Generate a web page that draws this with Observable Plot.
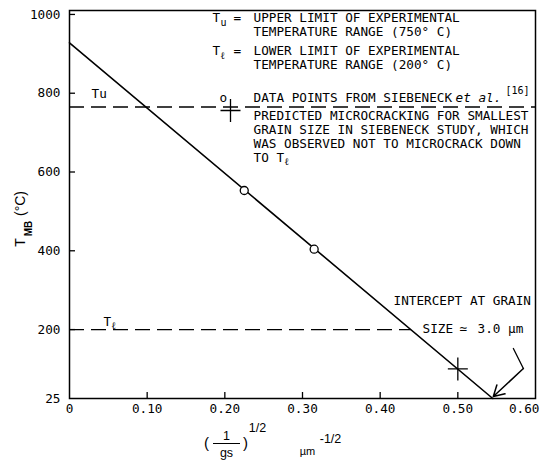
<!DOCTYPE html>
<html><head><meta charset="utf-8">
<script src="https://cdn.jsdelivr.net/npm/d3@7"></script>
<script src="https://cdn.jsdelivr.net/npm/@observablehq/plot@0.6"></script>
<style>body{margin:0;background:#fff}</style>
</head><body><div id="chart"></div>
<script>
// ---- data ----
const xTicks = [0, 0.10, 0.20, 0.30, 0.40, 0.50, 0.60];
const yTicks = [25, 200, 400, 600, 800, 1000];
const fitX = [0, 0.545];          // fitted line end points
const fitY = [928, 25];
const siebX = [0.225, 0.315];     // data points from Siebeneck et al.
const siebY = [553, 404];
const predX = [0.50];             // predicted microcracking
const predY = [100];
const limitNames = ["Tu", "Tℓ"];
const limitY = [765, 200];
const limitXEnd = [0.60, 0.44];
const arrowX = [0.5715, 0.5844, 0.5457];
const arrowY = [152, 101, 30];
const legendU = ["UPPER LIMIT OF EXPERIMENTAL", "TEMPERATURE RANGE (750° C)"];
const legendL = ["LOWER LIMIT OF EXPERIMENTAL", "TEMPERATURE RANGE (200° C)"];
const legendData = ["DATA POINTS FROM SIEBENECK", "et al.", "[16]"];
const legendPred = ["PREDICTED MICROCRACKING FOR SMALLEST", "GRAIN SIZE IN SIEBENECK STUDY, WHICH", "WAS OBSERVED NOT TO MICROCRACK DOWN", "TO T"];
const interceptText = ["INTERCEPT AT GRAIN", "SIZE", "≃", "3.0 µm"];

// ---- layout ----
const W = 541, H = 467, ML = 69, MR = 6, MT = 10, MB = 69;
const xDom = [0, 0.6], yDom = [25, 1010];
const xv = px => xDom[0] + (px - ML) / (W - ML - MR) * (xDom[1] - xDom[0]);
const yv = py => yDom[0] + (H - MB - py) / (H - MB - MT) * (yDom[1] - yDom[0]);

const mono = "DejaVu Sans Mono";
const sans = "Liberation Sans, Arial, sans-serif";
const note = (text, px, py, o = {}) => Plot.text([text], {
  text: d => d, frameAnchor: "top-left", dx: px - ML, dy: py - MT,
  textAnchor: "start", lineAnchor: "middle", fontFamily: mono, fontSize: 12.7,
  fill: "black", ...o
});

const cross = {
  draw(ctx, size) {
    const r = Math.sqrt(size / Math.PI);
    ctx.moveTo(-r, 0); ctx.lineTo(r, 0);
    ctx.moveTo(0, -1.15 * r); ctx.lineTo(0, 1.15 * r);
  }
};

const fit = fitX.map((x, i) => ({x, y: fitY[i]}));
const sieb = siebX.map((x, i) => ({x, y: siebY[i]}));
const pred = predX.map((x, i) => ({x, y: predY[i]}));
const limits = limitNames.map((n, i) => ({n, y: limitY[i], x2: limitXEnd[i]}));
const arrowPts = arrowX.map((x, i) => ({x, y: arrowY[i]}));
const xFmt = d => d === 0 ? "0" : d.toFixed(2);

const chart = Plot.plot({
  width: W, height: H,
  marginLeft: ML, marginRight: MR, marginTop: MT, marginBottom: MB,
  style: {background: "#fff", color: "black"},
  x: {domain: xDom, label: null},
  y: {domain: yDom, label: null},
  marks: [
    Plot.axisX({ticks: xTicks.slice(0, -1), tickFormat: xFmt, tickSize: 0, tickPadding: 5,
      fontFamily: mono, fontSize: 12.7, label: null}),
    Plot.axisX({ticks: xTicks.slice(-1), tickFormat: xFmt, tickSize: 0, tickPadding: 5, textAnchor: "end", dx: 4,
      fontFamily: mono, fontSize: 12.7, label: null}),
    Plot.axisY({ticks: yTicks, tickFormat: d => String(d), tickSize: 0, tickPadding: 9,
      fontFamily: mono, fontSize: 12.7, label: null}),
    // inward tick marks
    Plot.ruleX(xTicks.slice(1, -1), {x: d => d, y1: yDom[0], y2: yv(H - MB - 6), stroke: "black", strokeWidth: 1.3}),
    Plot.ruleY(yTicks.slice(1), {y: d => d, x1: xDom[0], x2: xv(ML + 6), stroke: "black", strokeWidth: 1.3}),
    Plot.frame({stroke: "black", strokeWidth: 1.5}),
    Plot.ruleY(limits, {y: "y", x1: 0, x2: "x2", stroke: "black", strokeWidth: 1.3, strokeDasharray: "15,7"}),
    Plot.line(fit, {x: "x", y: "y", stroke: "black", strokeWidth: 1.6}),
    Plot.dot(sieb, {x: "x", y: "y", r: 4, fill: "white", stroke: "black", strokeWidth: 1.3}),
    Plot.dot(pred, {x: "x", y: "y", r: 10, symbol: cross, fill: "none", stroke: "black", strokeWidth: 1.3}),
    Plot.line(arrowPts.slice(0, 2), {x: "x", y: "y", stroke: "black", strokeWidth: 1.3}),
    Plot.arrow([arrowPts], {x1: d => d[1].x, y1: d => d[1].y, x2: d => d[2].x, y2: d => d[2].y,
      stroke: "black", strokeWidth: 1.5, headLength: 12}),

    // left labels of limit lines
    note(limitNames[0], 91, 93),
    note("T", 103, 321), note("ℓ", 111, 325, {fontSize: 10}),

    // legend
    note("T", 212, 17), note("u", 220, 22, {fontSize: 10}), note("=", 233, 17),
    note(legendU[0], 253, 17), note(legendU[1], 253, 31),
    note("T", 212, 50), note("ℓ", 220, 55, {fontSize: 10}), note("=", 233, 50),
    note(legendL[0], 253, 50), note(legendL[1], 253, 64),
    note("o", 219, 97),
    note(legendData[0], 253, 97), note(legendData[1], 455, 97, {fontStyle: "italic"}),
    note(legendData[2], 505, 90, {fontSize: 10}),
    Plot.dot([0], {x: xv(230), y: yv(110), r: 10, symbol: cross, fill: "none", stroke: "black", strokeWidth: 1.3}),
    note(legendPred[0], 253, 115), note(legendPred[1], 253, 129), note(legendPred[2], 253, 143),
    note(legendPred[3], 253, 157), note("ℓ", 284, 161, {fontSize: 10}),

    // intercept annotation
    note(interceptText[0], 393, 300),
    note(interceptText[1], 422, 328), note(interceptText[2], 459, 328), note(interceptText[3], 477, 328),

    // y axis label
    note("T", 20, 242, {rotate: -90, textAnchor: "middle", fontFamily: sans, fontSize: 14}),
    note("MB", 28, 228, {rotate: -90, textAnchor: "middle", fontFamily: sans, fontSize: 10, fontWeight: "bold"}),
    note("(°C)", 20, 203, {rotate: -90, textAnchor: "middle", fontFamily: sans, fontSize: 14}),

    // x axis label
    note("(", 206, 443, {textAnchor: "middle", fontFamily: sans, fontSize: 15}),
    note("1", 226, 435, {textAnchor: "middle", fontFamily: sans, fontSize: 12.5}),
    Plot.ruleY([yDom[0]], {x1: xv(213), x2: xv(240), dy: 443 - (H - MB), stroke: "black", strokeWidth: 1}),
    note("gs", 226, 452, {textAnchor: "middle", fontFamily: sans, fontSize: 12.5}),
    note(")", 245, 443, {textAnchor: "middle", fontFamily: sans, fontSize: 15}),
    note("1/2", 257, 427, {textAnchor: "middle", fontFamily: sans, fontSize: 12.5}),
    note("µm", 307, 451, {textAnchor: "middle", fontFamily: sans, fontSize: 11}),
    note("-1/2", 330, 438, {textAnchor: "middle", fontFamily: sans, fontSize: 12.5})
  ]
});
document.getElementById("chart").append(chart);
</script>
</body></html>
